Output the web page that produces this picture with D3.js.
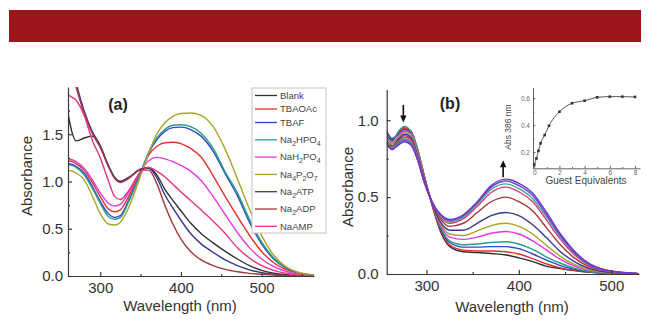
<!DOCTYPE html>
<html>
<head>
<meta charset="utf-8">
<script src="https://cdn.jsdelivr.net/npm/d3@7"></script>
<style>
  body { margin: 0; background: #fff; }
  svg { display: block; font-family: Arial, "Liberation Sans", sans-serif; }
</style>
</head>
<body>
<svg id="chart" width="650" height="322"></svg>
<script>
// ---- panel (a): anion screen ----
const wlA = [260, 265, 270, 280, 290, 300, 310, 318, 325, 335, 350, 360, 370, 380, 390, 400, 412, 425, 440, 455, 470, 485, 500, 515, 530, 545, 565];
const absBlank   = [1.72, 1.52, 1.43, 1.46, 1.48, 1.37, 1.17, 1.04, 1.00, 1.04, 1.13, 1.15, 1.07, 0.92, 0.80, 0.69, 0.56, 0.45, 0.35, 0.26, 0.18, 0.11, 0.06, 0.03, 0.015, 0.007, 0.003];
const absTBAOAc  = [1.22, 1.21, 1.19, 1.12, 0.99, 0.84, 0.71, 0.68, 0.70, 0.84, 1.10, 1.28, 1.37, 1.41, 1.415, 1.40, 1.35, 1.26, 1.06, 0.84, 0.63, 0.43, 0.26, 0.14, 0.07, 0.03, 0.008];
const absTBAF    = [1.19, 1.18, 1.16, 1.09, 0.95, 0.79, 0.66, 0.62, 0.64, 0.80, 1.09, 1.30, 1.44, 1.53, 1.57, 1.575, 1.55, 1.48, 1.32, 1.08, 0.85, 0.57, 0.34, 0.18, 0.085, 0.035, 0.008];
const absNa2HPO4 = [1.18, 1.17, 1.15, 1.07, 0.93, 0.77, 0.63, 0.60, 0.62, 0.78, 1.09, 1.31, 1.46, 1.55, 1.595, 1.60, 1.58, 1.51, 1.35, 1.10, 0.88, 0.60, 0.36, 0.19, 0.09, 0.035, 0.008];
const absNaH2PO4 = [1.24, 1.23, 1.21, 1.14, 1.02, 0.88, 0.77, 0.74, 0.76, 0.88, 1.11, 1.22, 1.255, 1.24, 1.21, 1.17, 1.11, 1.01, 0.84, 0.65, 0.46, 0.30, 0.18, 0.10, 0.05, 0.02, 0.006];
const absNa4P2O7 = [1.12, 1.11, 1.09, 1.02, 0.85, 0.66, 0.55, 0.54, 0.57, 0.72, 1.06, 1.30, 1.50, 1.62, 1.69, 1.72, 1.725, 1.70, 1.58, 1.34, 1.03, 0.71, 0.43, 0.22, 0.10, 0.04, 0.01];
const absNa2ATP  = [2.35, 2.20, 2.04, 1.75, 1.53, 1.38, 1.17, 1.04, 1.00, 1.04, 1.13, 1.14, 1.04, 0.86, 0.72, 0.59, 0.45, 0.34, 0.25, 0.17, 0.11, 0.065, 0.035, 0.018, 0.008, 0.004, 0.002];
const absNa2ADP  = [2.30, 2.15, 2.00, 1.72, 1.51, 1.36, 1.16, 1.03, 0.99, 1.03, 1.12, 1.12, 0.98, 0.75, 0.55, 0.39, 0.26, 0.17, 0.11, 0.07, 0.045, 0.028, 0.017, 0.01, 0.005, 0.003, 0.002];
const absNaAMP   = [1.92, 1.89, 1.86, 1.70, 1.44, 1.25, 1.01, 0.84, 0.81, 0.90, 1.10, 1.15, 1.11, 1.05, 0.97, 0.89, 0.80, 0.70, 0.58, 0.45, 0.30, 0.19, 0.11, 0.06, 0.03, 0.012, 0.004];
const anionsA = ['Blank', 'TBAOAc', 'TBAF', 'Na_2HPO_4', 'NaH_2PO_4', 'Na_4P_2O_7', 'Na_2ATP', 'Na_2ADP', 'NaAMP'];
const seriesA = [absBlank, absTBAOAc, absTBAF, absNa2HPO4, absNaH2PO4, absNa4P2O7, absNa2ATP, absNa2ADP, absNaAMP];

// ---- panel (b): titration, one row per wavelength, one column per addition ----
const wlB = [257, 263, 270, 276, 283, 290, 298, 306, 315, 325, 340, 355, 370, 386, 400, 415, 430, 445, 460, 475, 495, 530];
const absB = [
  [0.90, 0.92, 0.93, 0.89, 0.88, 0.87, 0.86, 0.86, 0.85, 0.86, 0.84, 0.85],
  [0.87, 0.88, 0.88, 0.86, 0.85, 0.84, 0.83, 0.83, 0.82, 0.82, 0.81, 0.81],
  [0.92, 0.92, 0.91, 0.93, 0.90, 0.89, 0.88, 0.87, 0.86, 0.86, 0.85, 0.84],
  [0.95, 0.95, 0.94, 0.96, 0.93, 0.92, 0.91, 0.90, 0.89, 0.88, 0.87, 0.86],
  [0.93, 0.93, 0.92, 0.93, 0.91, 0.90, 0.89, 0.88, 0.87, 0.86, 0.85, 0.84],
  [0.82, 0.82, 0.81, 0.82, 0.80, 0.79, 0.78, 0.77, 0.77, 0.76, 0.75, 0.75],
  [0.63, 0.63, 0.62, 0.63, 0.62, 0.61, 0.61, 0.60, 0.60, 0.59, 0.59, 0.59],
  [0.45, 0.45, 0.46, 0.46, 0.46, 0.46, 0.46, 0.47, 0.47, 0.47, 0.47, 0.47],
  [0.28, 0.29, 0.30, 0.31, 0.32, 0.33, 0.34, 0.36, 0.37, 0.38, 0.385, 0.39],
  [0.18, 0.19, 0.205, 0.215, 0.24, 0.26, 0.285, 0.31, 0.33, 0.34, 0.35, 0.355],
  [0.145, 0.155, 0.175, 0.19, 0.225, 0.25, 0.285, 0.33, 0.36, 0.37, 0.38, 0.385],
  [0.14, 0.15, 0.175, 0.195, 0.24, 0.28, 0.33, 0.40, 0.44, 0.455, 0.465, 0.47],
  [0.133, 0.15, 0.178, 0.205, 0.265, 0.315, 0.38, 0.47, 0.53, 0.55, 0.565, 0.575],
  [0.124, 0.145, 0.178, 0.21, 0.276, 0.33, 0.40, 0.50, 0.565, 0.586, 0.605, 0.617],
  [0.105, 0.13, 0.165, 0.195, 0.26, 0.31, 0.38, 0.47, 0.535, 0.555, 0.575, 0.59],
  [0.08, 0.10, 0.13, 0.16, 0.215, 0.26, 0.32, 0.41, 0.47, 0.49, 0.51, 0.525],
  [0.05, 0.065, 0.09, 0.11, 0.155, 0.185, 0.235, 0.30, 0.35, 0.37, 0.385, 0.40],
  [0.035, 0.04, 0.055, 0.07, 0.095, 0.115, 0.145, 0.19, 0.225, 0.24, 0.25, 0.26],
  [0.022, 0.024, 0.03, 0.038, 0.052, 0.062, 0.08, 0.105, 0.125, 0.135, 0.14, 0.15],
  [0.012, 0.013, 0.015, 0.018, 0.025, 0.03, 0.038, 0.05, 0.06, 0.065, 0.068, 0.072],
  [0.005, 0.005, 0.006, 0.007, 0.009, 0.01, 0.013, 0.016, 0.02, 0.022, 0.023, 0.025],
  [0.002, 0.002, 0.002, 0.002, 0.002, 0.002, 0.002, 0.002, 0.002, 0.002, 0.002, 0.002]
];

// inset: absorbance at 386 nm vs guest equivalents
const guestEq = [0, 0.17, 0.33, 0.5, 0.83, 1.17, 2, 3, 4, 5, 6, 7, 8];
const abs386 = [0.108, 0.153, 0.21, 0.265, 0.327, 0.396, 0.50, 0.563, 0.582, 0.607, 0.612, 0.612, 0.61];

// tick values
const ticksAX = [300, 400, 500], minorAX = [350, 450, 550];
const ticksAY = [0, 0.5, 1.0, 1.5], minorAY = [0.25, 0.75, 1.25, 1.75];
const ticksBX = [300, 400, 500], minorBX = [350, 450];
const ticksBY = [0, 0.5, 1.0], minorBY = [0.25, 0.75];
const ticksIX = [0, 2, 4, 6, 8], minorIX = [1, 3, 5, 7];
const ticksIY = [0.2, 0.4, 0.6], minorIY = [0.1, 0.3, 0.5];

const colorsA = ['#2f2f2f', '#e8302a', '#2f48c6', '#2a9c8c', '#e03ce0', '#a9a32c', '#343a90', '#a53838', '#e8337f'];
const colorsB = ['#2f2f2f', '#e8302a', '#2f48c6', '#2a9c8c', '#e03ce0', '#a9a32c', '#343a90', '#a53838', '#e8337f', '#3aa58a', '#5a4fd8', '#7a2fc8'];

const svg = d3.select('#chart');
const axisColor = '#3a3a3a';

svg.append('rect')
  .attr('x', 9).attr('y', 10).attr('width', 632).attr('height', 32)
  .attr('fill', '#9c151a');

function drawAxes(x, y, o) {
  const x0 = x.range()[0], y0 = y.range()[0];
  const bottom = svg.append('g').attr('transform', `translate(0,${y0})`);
  bottom.call(d3.axisBottom(x).tickValues(o.xTicks).tickSize(-o.tick).tickSizeOuter(0)
    .tickPadding(o.xPad).tickFormat(o.xFmt));
  bottom.append('g').call(d3.axisBottom(x).tickValues(o.xMinor).tickSize(-o.tick / 2).tickFormat(''))
    .select('.domain').remove();
  const left = svg.append('g').attr('transform', `translate(${x0},0)`);
  left.call(d3.axisLeft(y).tickValues(o.yTicks).tickSize(-o.tick).tickSizeOuter(0)
    .tickPadding(o.yPad).tickFormat(o.yFmt));
  left.append('g').call(d3.axisLeft(y).tickValues(o.yMinor).tickSize(-o.tick / 2).tickFormat(''))
    .select('.domain').remove();
  [bottom, left].forEach(g => {
    g.selectAll('.domain').attr('stroke', axisColor).attr('stroke-width', o.lw);
    g.selectAll('line').attr('stroke', axisColor).attr('stroke-width', o.lw);
    g.selectAll('text').attr('fill', o.textColor).style('font-size', o.font + 'px')
      .style('font-family', 'Arial, "Liberation Sans", sans-serif');
  });
}

function clipTo(id, x, y) {
  svg.append('clipPath').attr('id', id).append('rect')
    .attr('x', x.range()[0]).attr('y', y.range()[1])
    .attr('width', x.range()[1] - x.range()[0]).attr('height', y.range()[0] - y.range()[1]);
}

// ---------- panel (a) ----------
const xA = d3.scaleLinear().domain([260, 565]).range([68, 314]);
const yA = d3.scaleLinear().domain([0, 2.0]).range([276, 87]);
clipTo('clipA', xA, yA);

const lineA = d3.line().x((d, i) => xA(wlA[i])).y(d => yA(d)).curve(d3.curveMonotoneX);
svg.append('g').attr('clip-path', 'url(#clipA)')
  .selectAll('path').data(seriesA).enter().append('path')
  .attr('d', lineA)
  .attr('fill', 'none')
  .attr('stroke', (d, i) => colorsA[i])
  .attr('stroke-width', 1.4);

drawAxes(xA, yA, {
  xTicks: ticksAX, xMinor: minorAX, yTicks: ticksAY, yMinor: minorAY,
  xFmt: d3.format('d'), yFmt: d3.format('.1f'),
  tick: 4, xPad: 6, yPad: 5, lw: 1.2, font: 15, textColor: '#333'
});

svg.append('text').attr('x', 118).attr('y', 110).attr('text-anchor', 'middle')
  .style('font-size', '16px').style('font-weight', 'bold').attr('fill', '#222').text('(a)');
svg.append('text').attr('x', 180).attr('y', 311).attr('text-anchor', 'middle')
  .style('font-size', '15px').attr('fill', '#333').text('Wavelength (nm)');
svg.append('text').attr('transform', 'translate(32,176) rotate(-90)').attr('text-anchor', 'middle')
  .style('font-size', '15px').attr('fill', '#333').text('Absorbance');

// legend
const legend = svg.append('g');
legend.append('rect').attr('x', 252).attr('y', 88).attr('width', 74).attr('height', 145)
  .attr('fill', '#fff').attr('stroke', '#c4c4c4').attr('stroke-width', 1);
const hasSub = s => s.indexOf('_') >= 0;
let ly = 95.5;
anionsA.forEach((name, i) => {
  if (i > 0) ly += (hasSub(name) || hasSub(anionsA[i - 1])) ? 17.3 : 13.5;
  legend.append('line').attr('x1', 255).attr('x2', 277).attr('y1', ly).attr('y2', ly)
    .attr('stroke', colorsA[i]).attr('stroke-width', 1.3);
  const t = legend.append('text').attr('x', 280).attr('y', ly + 3.3)
    .style('font-size', '9.5px').attr('fill', '#444');
  name.split(/_(\d)/).forEach((part, k) => {
    if (!part) return;
    if (k % 2 === 1) {
      t.append('tspan').attr('dy', 3).style('font-size', '7px').text(part);
    } else {
      t.append('tspan').attr('dy', k > 0 ? -3 : 0).text(part);
    }
  });
});

// ---------- panel (b) ----------
const xB = d3.scaleLinear().domain([257, 530]).range([386.7, 639]);
const yB = d3.scaleLinear().domain([0, 1.2]).range([274, 89.5]);
clipTo('clipB', xB, yB);

const seriesB = d3.range(absB[0].length).map(j => absB.map(row => row[j]));
const lineB = d3.line().x((d, i) => xB(wlB[i])).y(d => yB(d)).curve(d3.curveMonotoneX);
svg.append('g').attr('clip-path', 'url(#clipB)')
  .selectAll('path').data(seriesB).enter().append('path')
  .attr('d', lineB)
  .attr('fill', 'none')
  .attr('stroke', (d, i) => colorsB[i])
  .attr('stroke-width', 1.4);

drawAxes(xB, yB, {
  xTicks: ticksBX, xMinor: minorBX, yTicks: ticksBY, yMinor: minorBY,
  xFmt: d3.format('d'), yFmt: d3.format('.1f'),
  tick: 4, xPad: 6, yPad: 8, lw: 1.2, font: 15, textColor: '#333'
});

svg.append('text').attr('x', 450).attr('y', 109).attr('text-anchor', 'middle')
  .style('font-size', '16px').style('font-weight', 'bold').attr('fill', '#222').text('(b)');
svg.append('text').attr('x', 512).attr('y', 312).attr('text-anchor', 'middle')
  .style('font-size', '15px').attr('fill', '#333').text('Wavelength (nm)');
svg.append('text').attr('transform', 'translate(353,187) rotate(-90)').attr('text-anchor', 'middle')
  .style('font-size', '15px').attr('fill', '#333').text('Absorbance');

// arrows showing the direction of change
function arrow(x, yFrom, yTo) {
  const dir = yTo > yFrom ? 1 : -1;
  svg.append('line').attr('x1', x).attr('x2', x).attr('y1', yFrom).attr('y2', yTo - dir * 6)
    .attr('stroke', '#111').attr('stroke-width', 1.6);
  svg.append('path')
    .attr('d', `M${x - 3.2},${yTo - dir * 7}L${x + 3.2},${yTo - dir * 7}L${x},${yTo}Z`)
    .attr('fill', '#111');
}
arrow(xB(275), yB(1.1), yB(0.985));
arrow(xB(383), yB(0.63), yB(0.74));

// ---------- inset ----------
const xI = d3.scaleLinear().domain([-0.1, 8.4]).range([533, 640]);
const yI = d3.scaleLinear().domain([0.08, 0.68]).range([168.3, 87.5]);

drawAxes(xI, yI, {
  xTicks: ticksIX, xMinor: minorIX, yTicks: ticksIY, yMinor: minorIY,
  xFmt: d3.format('d'), yFmt: d3.format('.1f'),
  tick: 2.5, xPad: 2, yPad: 3, lw: 0.8, font: 6.5, textColor: '#666'
});

const lineI = d3.line().x((d, i) => xI(guestEq[i])).y(d => yI(d)).curve(d3.curveMonotoneX);
svg.append('path').datum(abs386).attr('d', lineI)
  .attr('fill', 'none').attr('stroke', '#555').attr('stroke-width', 1);
svg.append('g').selectAll('rect').data(abs386).enter().append('rect')
  .attr('x', (d, i) => xI(guestEq[i]) - 1.3).attr('y', d => yI(d) - 1.3)
  .attr('width', 2.6).attr('height', 2.6).attr('fill', '#333');

svg.append('text').attr('x', 586).attr('y', 184).attr('text-anchor', 'middle')
  .style('font-size', '10px').attr('fill', '#444').text('Guest Equivalents');
svg.append('text').attr('transform', 'translate(511,127) rotate(-90)').attr('text-anchor', 'middle')
  .style('font-size', '8.5px').attr('fill', '#444').text('Abs 386 nm');
</script>
</body>
</html>
